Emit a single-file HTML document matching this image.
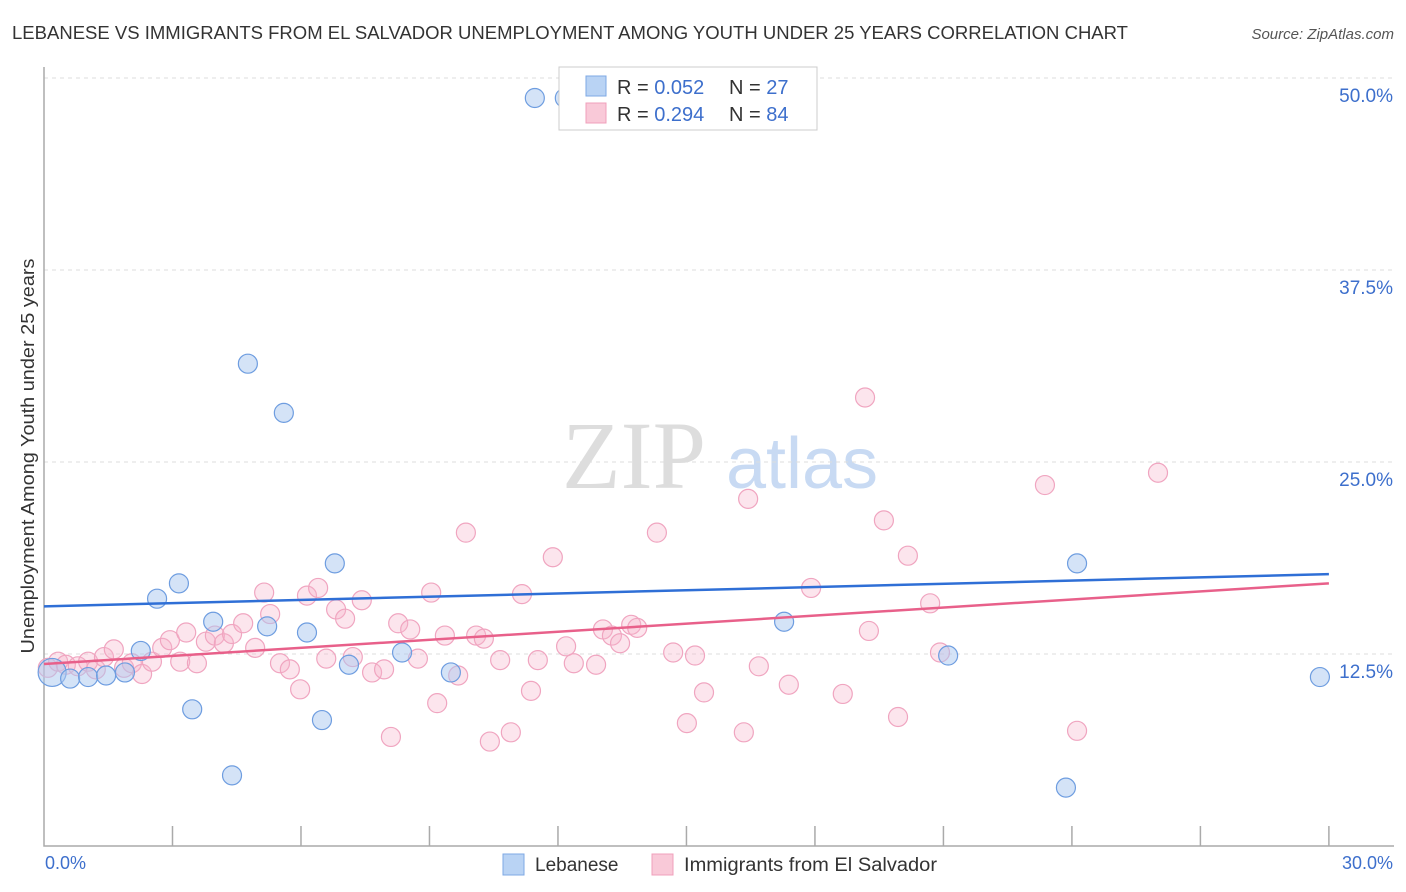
<!DOCTYPE html>
<html><head><meta charset="utf-8"><style>
body{margin:0;background:#fff;font-family:"Liberation Sans",sans-serif;}
#wrap{position:relative;width:1406px;height:892px;overflow:hidden;}
</style></head><body>
<div id="wrap">
<svg id="chart" width="1406" height="892" style="position:absolute;left:0;top:0">
<text x="12" y="39" font-size="18" fill="#333" textLength="1116" lengthAdjust="spacingAndGlyphs">LEBANESE VS IMMIGRANTS FROM EL SALVADOR UNEMPLOYMENT AMONG YOUTH UNDER 25 YEARS CORRELATION CHART</text>
<text x="1394" y="39" font-size="15" fill="#555" font-style="italic" text-anchor="end">Source: ZipAtlas.com</text>
<text x="634" y="488" font-size="96" fill="#ddd" font-family="Liberation Serif,serif" text-anchor="middle">ZIP</text>
<text x="802" y="488" font-size="72" fill="#c8daf3" text-anchor="middle">atlas</text>
<g id="grid"></g><g id="pts"></g><g id="lines"></g>
<text transform="translate(34,456) rotate(-90)" font-size="18" fill="#333" text-anchor="middle" textLength="395" lengthAdjust="spacingAndGlyphs">Unemployment Among Youth under 25 years</text>
<text x="45" y="869" font-size="18" fill="#3d6fcc">0.0%</text>
<text x="1393" y="869" font-size="18" fill="#3d6fcc" text-anchor="end">30.0%</text>
<g>
<rect x="559" y="67" width="258" height="63" fill="#fff" stroke="#ccc"/>
<rect x="586" y="76" width="20" height="20" fill="#b9d3f4" stroke="#7ea8e4"/>
<rect x="586" y="103" width="20" height="20" fill="#f9c9d8" stroke="#f0a0bb"/>
<text x="617" y="94" font-size="20" fill="#333">R = <tspan fill="#3d6fcc">0.052</tspan><tspan x="729">N = </tspan><tspan fill="#3d6fcc">27</tspan></text>
<text x="617" y="121" font-size="20" fill="#333">R = <tspan fill="#3d6fcc">0.294</tspan><tspan x="729">N = </tspan><tspan fill="#3d6fcc">84</tspan></text>
</g>
<g>
<rect x="503" y="854" width="21" height="21" fill="#b9d3f4" stroke="#7ea8e4"/>
<text x="535" y="871" font-size="19" fill="#333">Lebanese</text>
<rect x="652" y="854" width="21" height="21" fill="#f9c9d8" stroke="#f0a0bb"/>
<text x="684" y="871" font-size="19" fill="#333" textLength="253" lengthAdjust="spacingAndGlyphs">Immigrants from El Salvador</text>
</g>
</svg>
</div>
<script>
const yTicks=[12.5,25,37.5,50];
const yTickLabels=["12.5%","25.0%","37.5%","50.0%"];
const xTicks=[0,3,6,9,12,15,18,21,24,27,30];
const blueX=[0.19,0.61,1.03,1.45,1.89,2.26,2.64,3.15,3.46,3.95,4.39,4.76,5.21,5.60,6.14,6.49,6.79,7.12,8.36,9.50,11.46,12.16,17.28,21.11,24.12,23.86,29.79];
const blueY=[11.3,10.9,11.0,11.1,11.3,12.7,16.1,17.1,8.9,14.6,4.6,31.4,14.3,28.2,13.9,8.2,18.4,11.8,12.6,11.3,48.7,48.7,14.6,12.4,18.4,3.8,11.0];
const pinkX=[0.09,0.33,0.51,0.79,1.03,1.21,1.40,1.63,1.87,2.05,2.29,2.52,2.76,2.94,3.18,3.32,3.57,3.78,3.99,4.20,4.39,4.65,4.93,5.14,5.28,5.51,5.74,5.98,6.14,6.40,6.59,6.82,7.03,7.21,7.42,7.66,7.94,8.10,8.27,8.55,8.73,9.04,9.18,9.36,9.67,9.85,10.09,10.27,10.41,10.65,10.90,11.16,11.37,11.53,11.88,12.19,12.37,12.89,13.05,13.26,13.45,13.71,13.85,14.31,14.69,15.01,15.20,15.41,16.34,16.44,16.69,17.39,17.91,18.65,19.17,19.26,19.61,19.94,20.17,20.69,20.92,23.37,24.12,26.01];
const pinkY=[11.6,12.0,11.8,11.7,12.0,11.5,12.3,12.8,11.6,11.9,11.2,12.0,12.9,13.4,12.0,13.9,11.9,13.3,13.7,13.2,13.8,14.5,12.9,16.5,15.1,11.9,11.5,10.2,16.3,16.8,12.2,15.4,14.8,12.3,16.0,11.3,11.5,7.1,14.5,14.1,12.2,16.5,9.3,13.7,11.1,20.4,13.7,13.5,6.8,12.1,7.4,16.4,10.1,12.1,18.8,13.0,11.9,11.8,14.1,13.7,13.2,14.4,14.2,20.4,12.6,8.0,12.4,10.0,7.4,22.6,11.7,10.5,16.8,9.9,29.2,14.0,21.2,8.4,18.9,15.8,12.6,23.5,7.5,24.3];
const blueTrend=[15.6,17.7];
const pinkTrend=[11.85,17.1];
const NS='http://www.w3.org/2000/svg';
const sx=v=>44+v*42.83;
const sy=v=>846-v*15.36;
function mk(tag,attrs,parent){const e=document.createElementNS(NS,tag);for(const k in attrs)e.setAttribute(k,attrs[k]);parent.appendChild(e);return e;}
const grid=document.getElementById('grid'),pts=document.getElementById('pts'),lines=document.getElementById('lines');
yTicks.forEach((t,i)=>{
 const l=mk('line',{x1:44,x2:1394,y1:sy(t),y2:sy(t),stroke:'#ddd','stroke-dasharray':'4,4'},grid);
 
 
 const tx=mk('text',{x:1393,y:sy(t)+24,'font-size':19,fill:'#3d6fcc','text-anchor':'end'},grid);
 tx.textContent=yTickLabels[i];
 
 
});
const ax=mk('path',{d:'M44,67 V846 H1394',fill:'none',stroke:'#aaa','stroke-width':1.5},grid);


xTicks.slice(1).forEach(t=>{
 const l=mk('line',{x1:sx(t),x2:sx(t),y1:826,y2:846,stroke:'#aaa','stroke-width':1.5},grid);
 
 
});
pinkX.forEach((x,i)=>{
 const c=mk('circle',{cx:sx(x),cy:sy(pinkY[i]),r:9.5,fill:'rgba(246,180,203,0.35)',stroke:'#f0a5c0','stroke-width':1.2},pts);
 
 
});
blueX.forEach((x,i)=>{
 const c=mk('circle',{cx:sx(x),cy:sy(blueY[i]),r:i===0?14:9.5,fill:'rgba(170,200,240,0.5)',stroke:'#6e9de0','stroke-width':1.2},pts);
 
 
});
const bl=mk('line',{x1:sx(0),x2:sx(30),y1:sy(blueTrend[0]),y2:sy(blueTrend[1]),stroke:'#2f6fd6','stroke-width':2.5},lines);


const pl=mk('line',{x1:sx(0),x2:sx(30),y1:sy(pinkTrend[0]),y2:sy(pinkTrend[1]),stroke:'#e8608a','stroke-width':2.5},lines);


</script>
</body></html>
